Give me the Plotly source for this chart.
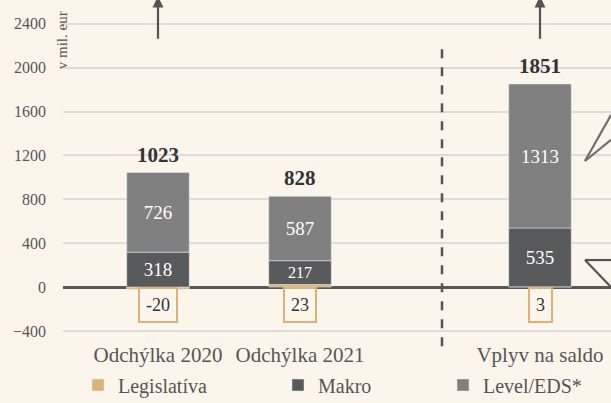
import plotly.graph_objects as go

categories = ["Odchýlka 2020", "Odchýlka 2021", "Vplyv na saldo"]
x_pos = [0, 1, 2.69]
legislativa = [-20, 23, 3]
makro = [318, 217, 535]
level = [726, 587, 1313]
totals = [1023, 828, 1851]
y_ticks = [-400, 0, 400, 800, 1200, 1600, 2000, 2400]

BG = "#fcf5ec"
TAN = "#dcb279"
DARK = "#58595b"
GRAY = "#808080"
FONT = "Liberation Serif"

fig = go.Figure()
fig.add_bar(x=x_pos, y=legislativa, name="Legislatíva", marker_color=TAN, width=0.44,
            legend="legend")
fig.add_bar(x=x_pos, y=makro, name="Makro", marker_color=DARK, width=0.44,
            text=makro, textposition="inside", insidetextanchor="middle",
            textfont=dict(color="white", size=19, family=FONT), legend="legend2")
fig.add_bar(x=x_pos, y=level, name="Level/EDS*", marker_color=GRAY, width=0.44,
            text=level, textposition="inside", insidetextanchor="middle",
            textfont=dict(color="white", size=19, family=FONT), legend="legend3")

anns = []
for xp, t, m, l, lg in zip(x_pos, totals, makro, level, legislativa):
    top = max(lg, 0) + m + l
    anns.append(dict(x=xp, y=top, text=f"<b>{t}</b>", showarrow=False, yanchor="bottom",
                     yshift=4, font=dict(size=21, color="#333333", family=FONT)))
    anns.append(dict(x=xp, y=-165, text=str(lg), showarrow=False,
                     bordercolor=TAN, borderwidth=2, borderpad=6, bgcolor=BG,
                     font=dict(size=18, color="#333333", family=FONT)))
# arrows pointing up
for xp in [x_pos[0], x_pos[2]]:
    anns.append(dict(x=xp, y=2650, ax=xp, ay=2250, axref="x", ayref="y", xref="x", yref="y",
                     showarrow=True, arrowhead=2, arrowsize=1, arrowwidth=2.2,
                     arrowcolor="#555555", text=""))
anns.append(dict(xref="paper", yref="y", x=0, y=2250, text="v mil. eur", textangle=-90,
                 showarrow=False, xanchor="center", xshift=-1,
                 font=dict(size=15, color="#555555", family=FONT)))

shapes = [
    dict(type="line", xref="x", yref="paper", x0=2.0, x1=2.0, y0=0.855, y1=-0.04,
         line=dict(color="#555555", width=2.5, dash="dash")),
    dict(type="line", xref="x", yref="y", x0=3.007, y0=1149, x1=3.19, y1=1569,
         line=dict(color="#6e6e6e", width=2.2)),
    dict(type="line", xref="x", yref="y", x0=3.007, y0=1149, x1=3.19, y1=1341,
         line=dict(color="#6e6e6e", width=2.2)),
    dict(type="line", xref="x", yref="y", x0=3.007, y0=246, x1=3.19, y1=246,
         line=dict(color="#555555", width=2.2)),
    dict(type="line", xref="x", yref="y", x0=3.007, y0=246, x1=3.19, y1=0,
         line=dict(color="#555555", width=2.2)),
]

def leg(xpx):
    return dict(orientation="h", xref="container", yref="container",
                x=xpx / 611, xanchor="left", y=1 - 385 / 403, yanchor="middle",
                font=dict(size=20, color="#555555", family=FONT), itemwidth=30,
                bgcolor="rgba(0,0,0,0)")

fig.update_layout(
    barmode="relative",
    width=611, height=403,
    margin=dict(l=63, r=0, t=0, b=63),
    paper_bgcolor=BG, plot_bgcolor=BG,
    font=dict(family=FONT, color="#555555"),
    showlegend=True,
    legend=leg(78), legend2=leg(278), legend3=leg(443),
    annotations=anns,
    shapes=shapes,
)
fig.update_xaxes(range=[-0.669, 3.19], tickvals=x_pos, ticktext=categories,
                 showgrid=False, zeroline=False, showline=False, automargin=False,
                 tickfont=dict(size=21, color="#555555", family=FONT), ticks="")
fig.update_yaxes(range=[-483, 2617], tickvals=y_ticks, showgrid=True, gridcolor="#dcdcdc",
                 gridwidth=1.5, zeroline=True, zerolinecolor="#58595b", zerolinewidth=2.5,
                 automargin=False,
                 tickfont=dict(size=16, color="#555555", family=FONT), ticklabelstandoff=16)

fig.write_html("out.html", config={"displayModeBar": False},
               post_script="document.body.style.margin='0';")
